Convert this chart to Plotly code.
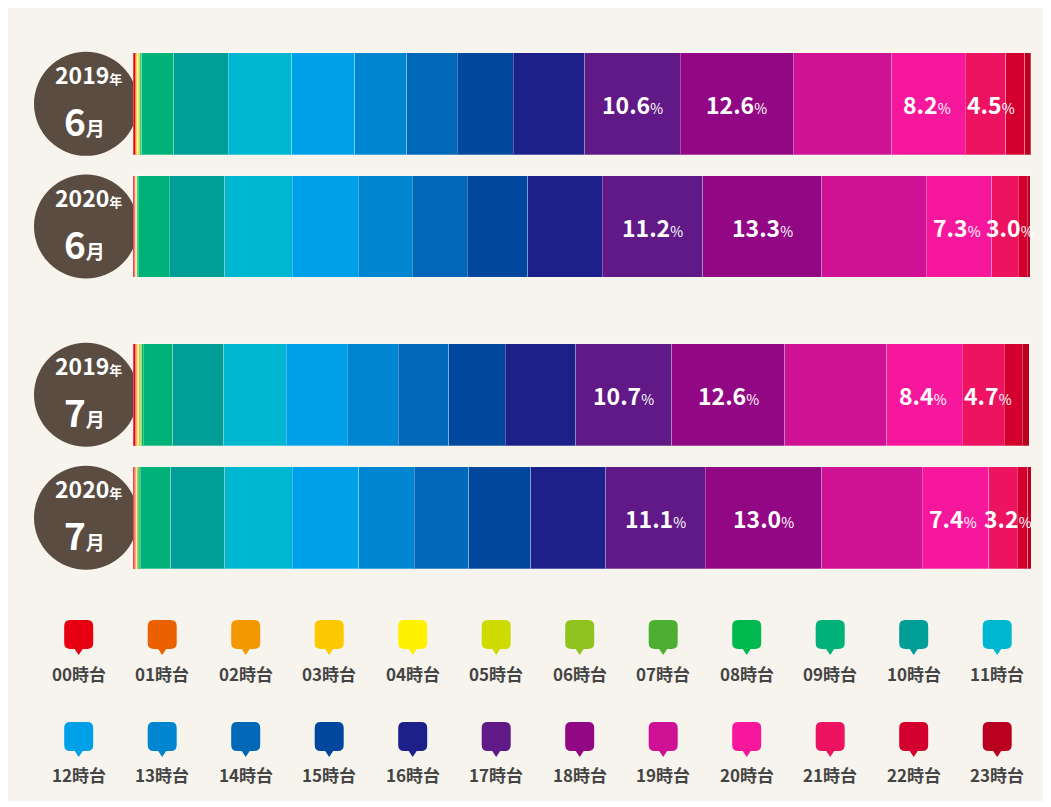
import plotly.graph_objects as go

# ---------------- data ----------------
HOURS = ["00時台", "01時台", "02時台", "03時台", "04時台", "05時台",
         "06時台", "07時台", "08時台", "09時台", "10時台", "11時台",
         "12時台", "13時台", "14時台", "15時台", "16時台", "17時台",
         "18時台", "19時台", "20時台", "21時台", "22時台", "23時台"]

YEARS = ["2019", "2020", "2019", "2020"]
MONTHS = ["6", "6", "7", "7"]
PERIODS = ["2019年6月", "2020年6月", "2019年7月", "2020年7月"]

JUN_2019 = [0.25, 0.10, 0.08, 0.06, 0.06, 0.08, 0.10, 0.10, 0.14,
            3.56, 6.08, 7.09, 7.00, 5.82, 5.61, 6.27, 7.98,
            10.6, 12.6, 11.0, 8.2, 4.5, 2.1, 0.7]
JUN_2020 = [0.20, 0.05, 0.04, 0.03, 0.03, 0.04, 0.05, 0.06, 0.10,
            3.45, 6.20, 7.50, 7.35, 6.05, 6.10, 6.75, 8.30,
            11.2, 13.3, 11.6, 7.3, 3.0, 1.0, 0.3]
JUL_2019 = [0.30, 0.10, 0.08, 0.07, 0.07, 0.10, 0.12, 0.13, 0.18,
            3.27, 5.71, 6.94, 6.79, 5.68, 5.68, 6.28, 7.83,
            10.7, 12.6, 11.4, 8.4, 4.7, 2.0, 0.75]
JUL_2020 = [0.22, 0.07, 0.05, 0.05, 0.05, 0.06, 0.08, 0.09, 0.13,
            3.40, 6.05, 7.50, 7.39, 6.19, 6.12, 6.87, 8.35,
            11.1, 13.0, 11.2, 7.4, 3.2, 1.16, 0.37]

SERIES = [JUN_2019, JUN_2020, JUL_2019, JUL_2020]
LABELED_HOURS = [17, 18, 20, 21]

COLORS = ["#E60012", "#EB6100", "#F39800", "#FCC800", "#FFF100", "#CFDB00",
          "#8FC31F", "#4CAF32", "#00B94F", "#00B277", "#009E96", "#00B7D2",
          "#00A0E9", "#0086D1", "#0068B7", "#00479D", "#1D2088", "#601986",
          "#920783", "#CF1295", "#F7179C", "#EE1360", "#D3002F", "#B9001F"]

# ---------------- layout constants ----------------
OFF_X, OFF_Y = 8, 8           # page offset of the figure
W, H = 1038, 793               # figure size
BAR_X0, BAR_X1 = 133, 1031     # page pixel coordinates
GROUP_PX = [(42.5, 287.9), (333.3, 579.3)]
FONT = "Noto Sans CJK JP"
BG = "#F7F4EE"
CIRCLE = "#5A4C40"
LABEL_XSHIFT = {17: 0, 18: 0, 20: -2, 21: 5}


def px(x):
    return (x - OFF_X) / W


def py(y):
    return 1 - (y - OFF_Y) / H


fig = go.Figure()
annotations = []

for g in range(2):
    xa = "x" if g == 0 else "x2"
    ya = "y" if g == 0 else "y2"
    rows = [2 * g, 2 * g + 1]
    for h in range(24):
        vals = [SERIES[r][h] for r in rows]
        fig.add_trace(go.Bar(
            x=vals, y=[PERIODS[r] for r in rows], orientation="h",
            name=HOURS[h], marker=dict(color=COLORS[h],
                                       line=dict(color="rgba(255,255,255,0.28)", width=1)),
            textposition="none",
            xaxis=xa, yaxis=ya, showlegend=False, hoverinfo="skip",
        ))
    # percentage labels, centred on their segment
    for r in rows:
        vals = SERIES[r]
        for h in LABELED_HOURS:
            mid = sum(vals[:h]) + vals[h] / 2
            annotations.append(dict(
                x=mid, y=PERIODS[r], xref=xa, yref=ya, showarrow=False,
                text="<b>%.1f</b><span style='font-size:14px'>%%</span>" % vals[h],
                font=dict(family=FONT, size=23, color="white"),
                xanchor="center", yanchor="middle", xshift=LABEL_XSHIFT[h]))

xdom = [px(BAR_X0), px(BAR_X1)]
axis_common = dict(showgrid=False, zeroline=False, showticklabels=False,
                   showline=False, ticks="", fixedrange=True)
fig.update_layout(
    xaxis=dict(domain=xdom, range=[0, 100.1], anchor="y", **axis_common),
    xaxis2=dict(domain=xdom, range=[0, 100.1], anchor="y2", **axis_common),
    yaxis=dict(domain=[py(GROUP_PX[0][1]), py(GROUP_PX[0][0])], autorange="reversed",
               anchor="x", **axis_common),
    yaxis2=dict(domain=[py(GROUP_PX[1][1]), py(GROUP_PX[1][0])], autorange="reversed",
                anchor="x2", **axis_common),
    barmode="stack", bargap=0.17,
    width=W, height=H,
    margin=dict(l=0, r=0, t=0, b=0),
    paper_bgcolor=BG, plot_bgcolor="rgba(0,0,0,0)",
    font=dict(family=FONT),
)

shapes = []
# circles with period labels
CX, R = 86, 52
for i in range(4):
    g = i // 2
    top, bot = GROUP_PX[g]
    cat_h = (bot - top) / 2
    cy = top + (i % 2 + 0.5) * cat_h
    shapes.append(dict(type="circle", xref="paper", yref="paper", layer="below",
                       x0=px(CX - R), x1=px(CX + R), y0=py(cy + R), y1=py(cy - R),
                       fillcolor=CIRCLE, line=dict(width=0)))
    split = cy - 12
    annotations.append(dict(
        x=px(CX + 2), y=py(split), xref="paper", yref="paper", showarrow=False,
        text="<b>%s</b><span style='font-size:13px'><b>年</b></span>" % YEARS[i],
        font=dict(family=FONT, size=23, color="white"),
        xanchor="center", yanchor="bottom", borderpad=0))
    annotations.append(dict(
        x=px(CX - 2), y=py(split), xref="paper", yref="paper", showarrow=False,
        text="<b>%s</b><span style='font-size:19px'><b>月</b></span>" % MONTHS[i],
        font=dict(family=FONT, size=37, color="white"),
        xanchor="center", yanchor="top", borderpad=0))

# legend (speech-bubble swatches + labels)
LEG_X0, LEG_DX = 78.7, 83.5
LEG_TOP = [620, 722]
LEG_LABEL_Y = [673, 774]
SW, SH, RR = 29, 29, 6
for h in range(24):
    col, row = h % 12, h // 12
    cx = LEG_X0 + col * LEG_DX
    x0, x1 = cx - SW / 2, cx + SW / 2
    y0, y1 = LEG_TOP[row], LEG_TOP[row] + SH
    pts = [
        ("M", (x0 + RR, y0)), ("L", (x1 - RR, y0)), ("Q", (x1, y0), (x1, y0 + RR)),
        ("L", (x1, y1 - RR)), ("Q", (x1, y1), (x1 - RR, y1)),
        ("L", (cx + 4, y1)), ("L", (cx, y1 + 6)), ("L", (cx - 4, y1)),
        ("L", (x0 + RR, y1)), ("Q", (x0, y1), (x0, y1 - RR)),
        ("L", (x0, y0 + RR)), ("Q", (x0, y0), (x0 + RR, y0)),
    ]
    path = ""
    for p in pts:
        coords = " ".join("%.5f,%.5f" % (px(a), py(b)) for a, b in p[1:])
        path += p[0] + coords + " "
    path += "Z"
    shapes.append(dict(type="path", xref="paper", yref="paper", path=path,
                       fillcolor=COLORS[h], line=dict(width=0), layer="above"))
    annotations.append(dict(
        x=px(cx), y=py(LEG_LABEL_Y[row]), xref="paper", yref="paper", showarrow=False,
        text="<b>%s</b>" % HOURS[h], font=dict(family=FONT, size=17, color="#444444"),
        xanchor="center", yanchor="middle"))

fig.update_layout(shapes=shapes, annotations=annotations)
fig.write_html("out.html", config={"displayModeBar": False})
